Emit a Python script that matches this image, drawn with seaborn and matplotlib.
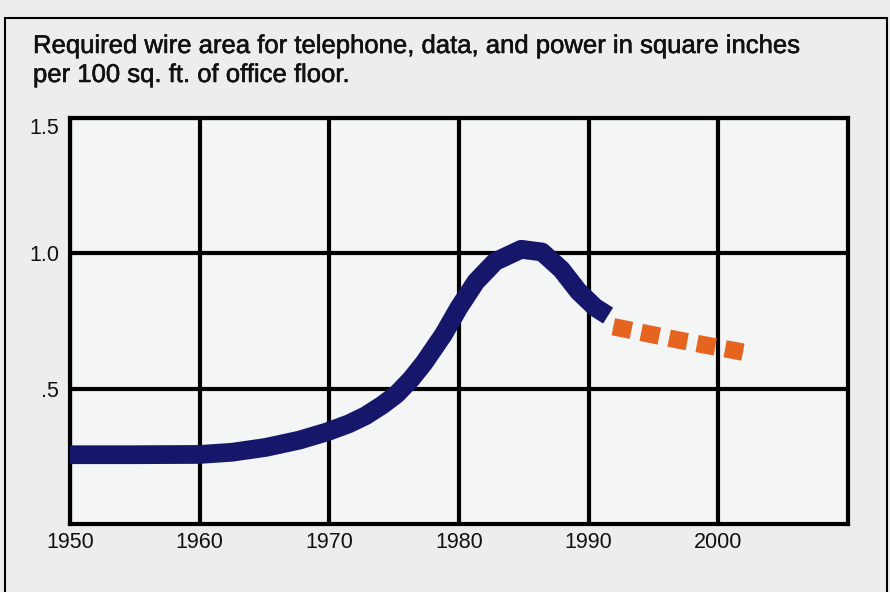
import matplotlib
matplotlib.use("Agg")
import matplotlib.pyplot as plt
import matplotlib.patheffects as pe
import seaborn as sns
import pandas as pd
from matplotlib.patches import Rectangle

title_lines = ["Required wire area for telephone, data, and power in square inches",
               "per 100 sq. ft. of office floor."]

hist_years = [1950, 1955, 1960, 1962.5, 1965.1, 1967.7, 1969.8, 1971.5, 1972.8, 1974.1, 1975.2, 1976.3, 1977.3,
              1978.8, 1980, 1981.3, 1982.8, 1984.8, 1986.4, 1987.9, 1989.2, 1990.5, 1991.5]
hist_vals = [0.256, 0.256, 0.257, 0.265, 0.283, 0.31, 0.34, 0.37, 0.40, 0.44, 0.48, 0.535, 0.595,
             0.70, 0.80, 0.895, 0.97, 1.015, 1.005, 0.94, 0.86, 0.80, 0.77]

proj_years = [1991.9, 1996.9, 2001.9]
proj_vals = [0.729, 0.680, 0.635]

x_ticks = [1950, 1960, 1970, 1980, 1990, 2000]
x_labels = ["1950", "1960", "1970", "1980", "1990", "2000"]
y_ticks = [0.5, 1.0, 1.5]
y_labels = [".5", "1.0", "1.5"]

sns.set_theme(style="white")
plt.rcParams["font.family"] = ["Liberation Sans", "DejaVu Sans"]

fig = plt.figure(figsize=(8.9, 5.92), dpi=100, facecolor="#ecedec")
ax = fig.add_axes([70/890, 1 - 524/592, (848-70)/890, (524-118)/592])
ax.set_facecolor("#f4f5f5")

hist = pd.DataFrame({"year": hist_years, "value": hist_vals})
proj = pd.DataFrame({"year": proj_years, "value": proj_vals})

sns.lineplot(data=hist, x="year", y="value", ax=ax, color="#16166b", linewidth=13.5,
             solid_capstyle="butt", solid_joinstyle="round", zorder=5)
sns.lineplot(data=proj, x="year", y="value", ax=ax, color="#e5641f", linewidth=12.5,
             zorder=5)
ax.lines[-1].set_dashes([1.065, 0.576])
ax.lines[-1].set_dash_capstyle("butt")

semibold = [pe.withStroke(linewidth=0.4, foreground="#111111")]

ax.set_xlim(1950, 2010)
ax.set_ylim(0, 1.5)
ax.set_xticks(x_ticks)
ax.set_xticklabels(x_labels, fontsize=15.5, color="#111111")
ax.set_yticks(y_ticks)
ax.set_yticklabels(y_labels, fontsize=15.5, color="#111111")
ax.get_yticklabels()[-1].set_verticalalignment("top")
ax.set_xlabel("")
ax.set_ylabel("")
ax.tick_params(axis="x", length=0, pad=6)
ax.tick_params(axis="y", length=0, pad=8)
ax.grid(True, color="black", linewidth=3)
ax.set_axisbelow(True)
for s in ax.spines.values():
    s.set_visible(True)
    s.set_color("black")
    s.set_linewidth(3)

fig.text(33/890, 1 - 53/592, title_lines[0], fontsize=18.5, ha="left", va="baseline",
         color="#111111", path_effects=semibold)
fig.text(33/890, 1 - 82/592, title_lines[1], fontsize=18.5, ha="left", va="baseline",
         color="#111111", path_effects=semibold)
fig.patches.append(Rectangle((5/890, -0.05), (887-5)/890, 1 - 18/592 + 0.05,
                             transform=fig.transFigure, fill=False, edgecolor="black", linewidth=1.5))

fig.savefig("out.png", dpi=100, facecolor=fig.get_facecolor())
